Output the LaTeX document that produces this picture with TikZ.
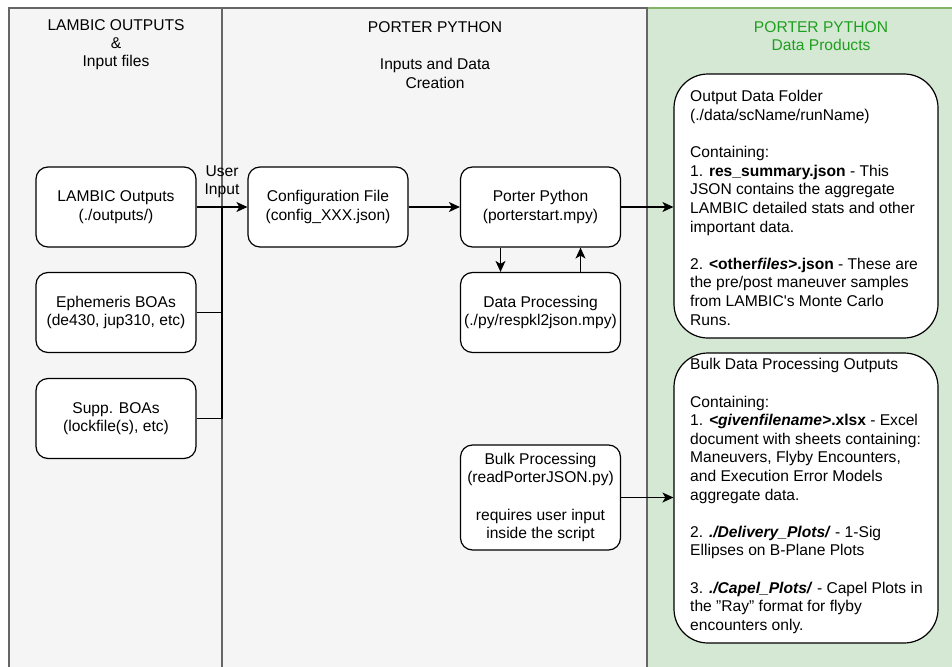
\documentclass[tikz,border=0pt]{standalone}
\usepackage{fontspec}
\setmainfont{Liberation Sans}
\usetikzlibrary{arrows.meta}
\definecolor{panelgray}{HTML}{F5F5F5}
\definecolor{panelline}{HTML}{666666}
\definecolor{greenfill}{HTML}{D5E8D4}
\definecolor{greenline}{HTML}{82B366}
\definecolor{greentext}{HTML}{1F9F1F}
\begin{document}
\begin{tikzpicture}[x=1pt,y=-1pt,
  font=\fontsize{15.6}{18.6}\selectfont,
  box/.style={draw=black, line width=1.2pt, fill=white, rounded corners=12pt,
    minimum width=160pt, minimum height=80pt, align=center, inner sep=1pt},
  bigbox/.style={draw=black, line width=1.2pt, fill=white, rounded corners=34pt,
    minimum width=264pt, inner sep=0pt},
  bigtext/.style={anchor=west, align=left, inner sep=0pt},
  header/.style={align=center, inner sep=0pt},
  conn/.style={line width=1.2pt},
  arr/.style={conn, -{Stealth[length=11pt,width=10pt,inset=3pt]}}]
\useasboundingbox (0,0) rectangle (952,666);
\clip (0,0) rectangle (952,666);
% panels
\draw[fill=greenfill, draw=greenline, line width=1.3pt] (647,8) rectangle (975,700);
\draw[fill=panelgray, draw=panelline, line width=1.3pt] (9,8) rectangle (222,700);
\draw[fill=panelgray, draw=panelline, line width=1.3pt] (222,8) rectangle (647,700);
% headers
\node[header] (h1) at (116,45) {LAMBIC OUTPUTS\\[-0.6pt]\&\\[-0.6pt]Input files};
\node[header] (h2) at (435,55) {PORTER PYTHON\\[18.6pt]Inputs and Data\\Creation};
\node[header, text=greentext] (h3) at (821,36) {PORTER PYTHON\\[-0.6pt]Data Products};
% left/middle boxes
\node[box] (lambic) at (116,207) {LAMBIC Outputs\\(./outputs/)};
\node[box] (ephem) at (116,312.5) {Ephemeris BOAs\\(de430, jup310, etc)};
\node[box] (supp) at (116,418.5) {Supp. BOAs\\(lockfile(s), etc)};
\node[box] (config) at (328,207) {Configuration File\\(config\_XXX.json)};
\node[box] (porter) at (540.5,207) {Porter Python\\(porterstart.mpy)};
\node[box] (dataproc) at (540.5,312.5) {Data Processing\\(./py/respkl2json.mpy)};
\node[box, minimum height=105pt] (bulk) at (540.5,497.5) {Bulk Processing\\(readPorterJSON.py)\\[18.6pt]requires user input\\inside the script};
% right boxes
\node[bigbox, minimum height=264pt] (out) at (806,206) {};
\node[bigtext] (outtxt) at (690,208) {Output Data Folder\\
(./data/scName/runName)\\[18.6pt]
Containing:\\
1. \textbf{res\_summary.json} - This\\
JSON contains the aggregate\\
LAMBIC detailed stats and other\\
important data.\\[18.6pt]
2. \textbf{<other\textit{files}>.json} - These are\\
the pre/post maneuver samples\\
from LAMBIC\textquotesingle s Monte Carlo\\
Runs.};
\node[bigbox, minimum height=290pt] (bulkout) at (806,498) {};
\node[bigtext] (bulkouttxt) at (690,496) {Bulk Data Processing Outputs\\[18.6pt]
Containing:\\
1. \textbf{\textit{<givenfilename>}.xlsx} - Excel\\
document with sheets containing:\\
Maneuvers, Flyby Encounters,\\
and Execution Error Models\\
aggregate data.\\[18.6pt]
2. \textbf{\textit{./Delivery\_Plots/}} - 1-Sig\\
Ellipses on B-Plane Plots\\[18.6pt]
3. \textbf{\textit{./Capel\_Plots/}} - Capel Plots in\\
the \symbol{34}Ray\symbol{34} format for flyby\\
encounters only.};
% connectors
\coordinate (j) at (222,207);
\draw[conn] (ephem.east) -| (j);
\draw[conn] (supp.east) -| (j);
\draw[arr] (lambic.east) -- (config.west);
\node[header] (ui) at (222,182) {User\\[-0.6pt]Input};
\draw[arr] (config.east) -- (porter.west);
\draw[arr] (porter.east) -- (porter.east -| out.west);
\draw[arr] ([xshift=-40pt]porter.south) -- ([xshift=-40pt]dataproc.north);
\draw[arr] ([xshift=40pt]dataproc.north) -- ([xshift=40pt]porter.south);
\draw[arr] (bulk.east) -- (bulk.east -| bulkout.west);
\end{tikzpicture}
\end{document}
